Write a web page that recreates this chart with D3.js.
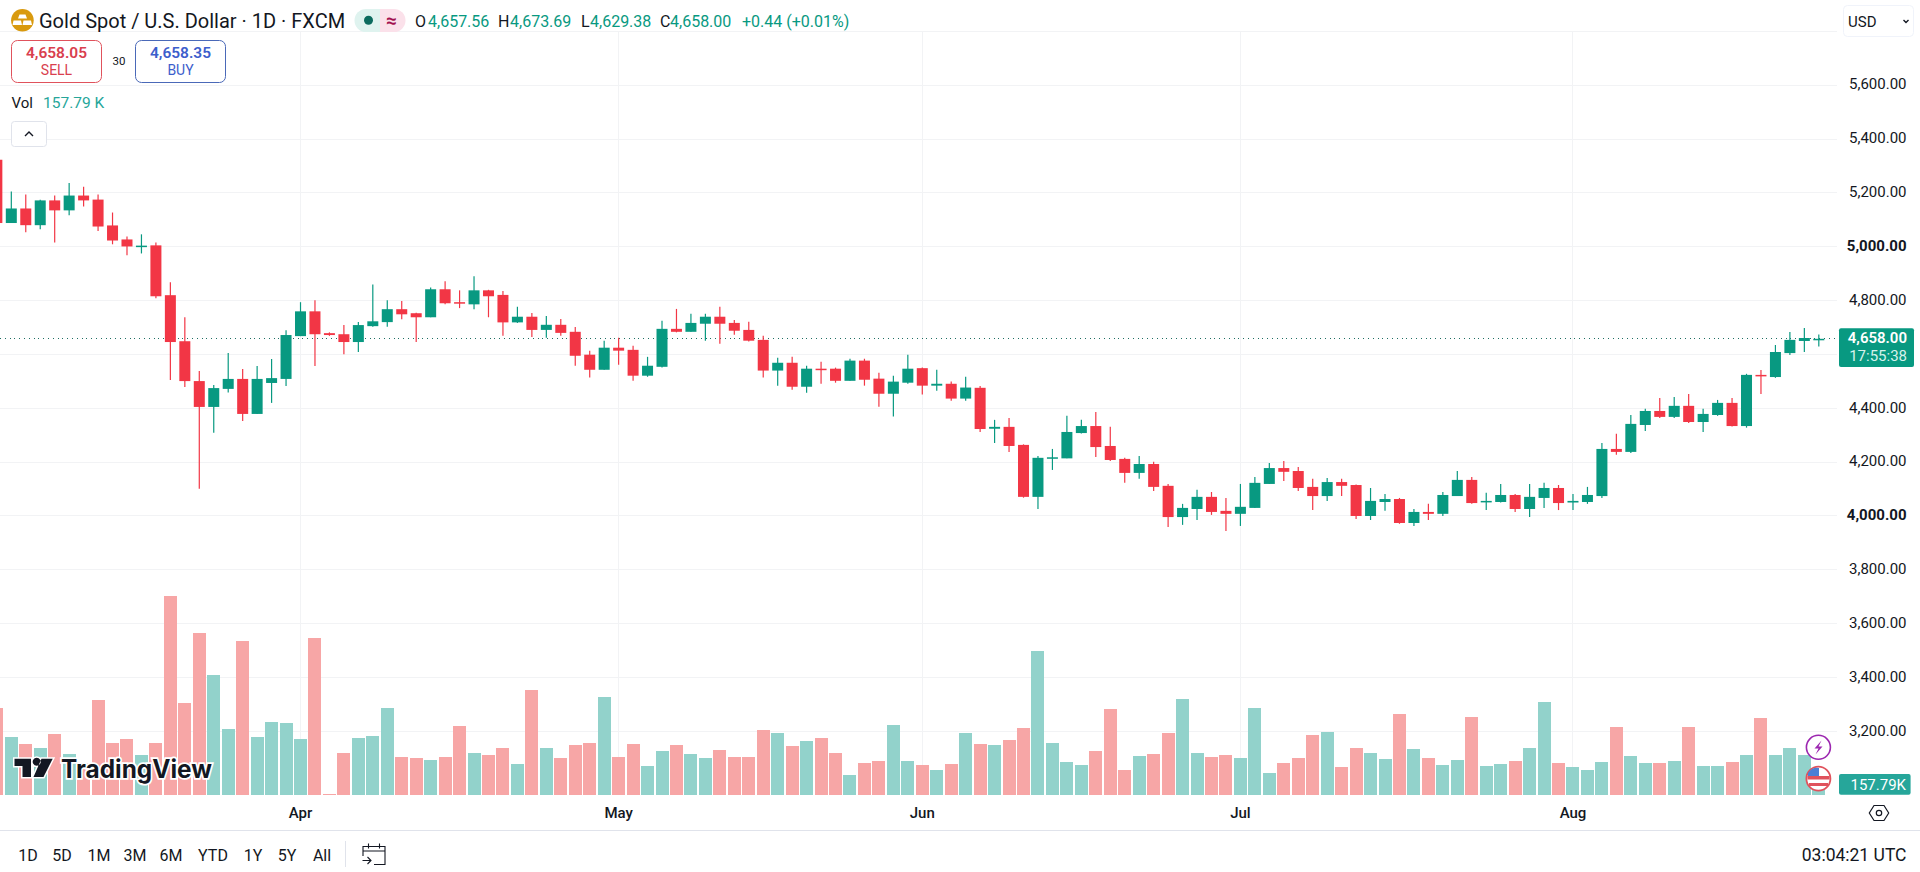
<!DOCTYPE html>
<html>
<head>
<meta charset="utf-8">
<title>Gold Spot / U.S. Dollar</title>
<script src="https://cdn.jsdelivr.net/npm/d3@7"></script>
<style>
html, body { margin: 0; padding: 0; background: #fff; overflow: hidden; }
svg { display: block; }
text { font-family: Roboto, "Noto Sans", sans-serif; }
</style>
</head>
<body>
<svg id="chart" width="1920" height="872"></svg>
<script>
// daily candles, left to right
var opens = [5323,5088,5142,5080,5172,5135,5190,5175,5079,5027,5000,5005,4820,4649,4501,4405,4472,4509,4379,4494,4509,4668,4760,4679,4675,4646,4705,4720,4768,4753,4738,4842,4794,4786,4838,4821,4719,4740,4691,4710,4684,4599,4543,4625,4617,4521,4554,4695,4684,4714,4740,4717,4691,4654,4540,4569,4480,4547,4547,4502,4577,4510,4454,4495,4549,4484,4491,4436,4476,4324,4331,4264,4071,4214,4214,4308,4334,4260,4212,4160,4193,4112,3996,4026,4071,4019,4008,4030,4119,4178,4167,4108,4074,4126,4115,4000,4052,4063,3974,4015,4008,4074,4134,4051,4052,4078,4026,4067,4104,4050,4052,4074,4249,4238,4338,4390,4368,4409,4349,4375,4420,4334,4524,4516,4605,4650,4657.56];
var highs = [5325,5205,5194,5174,5190,5237,5223,5194,5127,5038,5046,5016,4868,4738,4538,4486,4605,4546,4557,4583,4690,4794,4801,4682,4709,4720,4860,4801,4798,4755,4849,4872,4838,4890,4840,4836,4777,4754,4743,4732,4702,4614,4651,4662,4632,4591,4725,4769,4751,4751,4777,4728,4721,4669,4588,4591,4558,4573,4551,4584,4584,4532,4521,4599,4551,4543,4499,4517,4483,4357,4364,4266,4223,4249,4372,4357,4386,4331,4216,4223,4201,4119,4045,4097,4089,4067,4119,4145,4197,4204,4182,4138,4141,4138,4117,4104,4082,4067,4026,4045,4089,4167,4145,4086,4119,4082,4119,4123,4115,4082,4108,4271,4305,4375,4398,4438,4442,4453,4398,4431,4438,4528,4542,4635,4683,4698,4673.69];
var lows = [5080,5088,5054,5065,5016,5117,5149,5058,5009,4968,4975,4809,4505,4479,4101,4309,4459,4353,4379,4420,4483,4668,4557,4669,4601,4609,4703,4703,4731,4646,4738,4786,4772,4768,4738,4669,4717,4665,4662,4669,4558,4514,4543,4562,4502,4517,4551,4682,4684,4651,4640,4673,4648,4514,4484,4469,4458,4491,4495,4502,4484,4406,4369,4491,4451,4465,4428,4428,4312,4271,4238,4068,4026,4171,4214,4306,4219,4204,4123,4138,4093,3959,3967,3985,4004,3944,3963,4030,4119,4130,4093,4022,4056,4074,3989,3985,4019,3971,3963,3985,4000,4074,4045,4022,4050,4015,3996,4030,4022,4022,4045,4067,4227,4234,4316,4364,4364,4345,4312,4372,4332,4328,4453,4513,4598,4609,4629.38];
var closes = [5088,5142,5080,5172,5135,5190,5172,5075,5023,5001,5004,4816,4646,4501,4405,4475,4509,4379,4509,4512,4672,4760,4675,4672,4646,4709,4723,4768,4749,4738,4842,4790,4792,4838,4816,4719,4740,4691,4710,4680,4595,4543,4625,4614,4521,4558,4695,4684,4717,4740,4714,4688,4651,4540,4569,4480,4547,4545,4502,4577,4506,4454,4499,4547,4484,4491,4436,4477,4323,4331,4260,4071,4216,4218,4312,4334,4256,4208,4160,4193,4108,3996,4030,4071,4015,4008,4034,4123,4178,4164,4104,4074,4126,4112,4000,4056,4063,3974,4015,4008,4078,4134,4048,4056,4078,4026,4071,4104,4048,4056,4078,4249,4238,4342,4390,4368,4409,4349,4379,4420,4334,4524,4522,4609,4654,4661,4658.00];
// volume in thousands
var volumes = [1300,865,760,700,910,610,475,1420,775,835,595,775,2980,1375,2425,1795,985,2305,865,1090,1075,835,2350,10,625,850,880,1300,565,550,520,565,1030,625,595,700,460,1570,700,550,745,775,1465,565,760,430,655,745,610,550,670,565,565,970,925,730,805,850,625,295,475,505,1045,505,445,370,460,925,760,745,820,1000,2155,775,490,445,655,1285,370,580,610,925,1435,625,565,595,550,1300,325,475,550,895,940,415,700,625,535,1210,685,550,445,520,1165,430,460,505,700,1390,475,415,370,490,1015,580,475,475,505,1015,430,430,490,595,1150,595,700,595,157.79];

var priceTicks = [5800,5600,5400,5200,5000,4800,4600,4400,4200,4000,3800,3600,3400,3200];
var boldTicks = [5000,4000];
var hiddenTicks = [5800];
var monthLabels = ["Apr","May","Jun","Jul","Aug"];
var monthBars = [21,43,64,86,109];
var rangeButtons = ["1D","5D","1M","3M","6M","YTD","1Y","5Y","All"];
var rangeCenters = [28,62,99,135,171,213,253,287,322];
var lastPrice = 4658;

var UP = "#089981", DOWN = "#F23645";
var UP_VOL = "#92d2cb", DOWN_VOL = "#f7a6a6";
var GRID = "#f2f3f5", TEXT = "#131722";
var PANE_R = 1837, VOL_BASE = 794.7;

var svg = d3.select("#chart");

var x = d3.scaleLinear().domain([0, 126]).range([-3.15, 1818.81]);
var y = d3.scaleLinear().domain([3200, 5800]).range([731.4, 31.3]);
var yVol = d3.scaleLinear().domain([0, 3000]).range([VOL_BASE, 594.7]);

function label(parent, px, py, str, size, color, anchor, weight) {
	return parent.append("text")
		.attr("x", px)
		.attr("y", py)
		.attr("dy", "0.35em")
		.attr("font-size", size + "px")
		.attr("font-weight", weight || 400)
		.attr("text-anchor", anchor || "start")
		.attr("fill", color)
		.text(str);
}

// grid
var grid = svg.append("g").attr("shape-rendering", "crispEdges");
grid.selectAll(".h").data(priceTicks).enter().append("line")
	.attr("x1", 0).attr("x2", PANE_R)
	.attr("y1", function(d) { return y(d); })
	.attr("y2", function(d) { return y(d); })
	.attr("stroke", GRID);
grid.selectAll(".v").data(monthBars).enter().append("line")
	.attr("x1", function(d) { return x(d); })
	.attr("x2", function(d) { return x(d); })
	.attr("y1", 32).attr("y2", VOL_BASE)
	.attr("stroke", GRID);

// volume
svg.append("g").attr("shape-rendering", "crispEdges")
	.selectAll("rect").data(volumes).enter().append("rect")
	.attr("x", function(d, i) { return x(i) - 6.5; })
	.attr("width", 13)
	.attr("y", function(d) { return yVol(d); })
	.attr("height", function(d) { return VOL_BASE - yVol(d); })
	.attr("fill", function(d, i) { return closes[i] >= opens[i] ? UP_VOL : DOWN_VOL; });

// last price line
svg.append("line")
	.attr("x1", 0).attr("x2", PANE_R)
	.attr("y1", y(lastPrice)).attr("y2", y(lastPrice))
	.attr("stroke", "#1f6f63")
	.attr("shape-rendering", "crispEdges")
	.attr("stroke-dasharray", "1 3.8");

// candles
var candles = svg.append("g").selectAll("g").data(opens).enter().append("g");
candles.append("line")
	.attr("x1", function(d, i) { return x(i); })
	.attr("x2", function(d, i) { return x(i); })
	.attr("y1", function(d, i) { return y(highs[i]); })
	.attr("y2", function(d, i) { return y(lows[i]); })
	.attr("stroke-width", 1.2)
	.attr("stroke", function(d, i) { return closes[i] >= d ? UP : DOWN; });
candles.append("rect")
	.attr("x", function(d, i) { return x(i) - 5.5; })
	.attr("width", 11)
	.attr("y", function(d, i) { return y(Math.max(d, closes[i])); })
	.attr("height", function(d, i) { return Math.max(1.5, Math.abs(y(d) - y(closes[i]))); })
	.attr("fill", function(d, i) { return closes[i] >= d ? UP : DOWN; });

// watermark
var logo = svg.append("g");
logo.append("path")
	.attr("d", "M14.5 758.7H31V777H22.5V766H14.5ZM36.7 757.7a4 4 0 1 0 .01 0ZM41.5 758.7H52.7L43.5 777H33.5Z")
	.attr("fill", TEXT).attr("stroke", "#fff").attr("stroke-width", 3).attr("paint-order", "stroke");
label(logo, 61, 769, "TradingView", 25, TEXT, "start", 700)
	.attr("stroke", "#fff").attr("stroke-width", 3.5).attr("paint-order", "stroke")
	.style("font-family", "Inter, Roboto, sans-serif")
	.attr("textLength", 151).attr("lengthAdjust", "spacingAndGlyphs");

// price axis
svg.append("rect").attr("x", PANE_R + 1).attr("y", 0).attr("width", 82).attr("height", VOL_BASE).attr("fill", "#fff");
var axis = svg.append("g");
priceTicks.forEach(function(t) {
	if (hiddenTicks.indexOf(t) >= 0) return;
	label(axis, 1906.5, y(t) - 1, d3.format(",.2f")(t), 15, TEXT, "end", boldTicks.indexOf(t) >= 0 ? 700 : 400);
});

// last price badge
axis.append("rect").attr("x", 1839).attr("y", 328.3).attr("width", 75).attr("height", 38.7).attr("rx", 2).attr("fill", UP);
label(axis, 1907, 337.7, d3.format(",.2f")(lastPrice), 15, "#ffffff", "end", 600);
label(axis, 1907, 355.7, "17:55:38", 15, "#d6f2ec", "end");

// volume badge
axis.append("rect").attr("x", 1839).attr("y", 774).attr("width", 71.6).attr("height", 20.7).attr("rx", 2).attr("fill", "#26a69a");
label(axis, 1906, 784.5, "157.79K", 15, "#ffffff", "end");

// time axis
var timeAxis = svg.append("g");
monthLabels.forEach(function(m, i) {
	label(timeAxis, x(monthBars[i]), 813, m, 15, TEXT, "middle", 500);
});
svg.append("line").attr("x1", 0).attr("x2", 1920).attr("y1", 830.5).attr("y2", 830.5).attr("stroke", "#e0e3eb");

// event icons
var bolt = svg.append("g");
bolt.append("circle").attr("cx", 1818.4).attr("cy", 747.3).attr("r", 12).attr("fill", "#fff").attr("stroke", "#9c27b0").attr("stroke-width", 1.6);
bolt.append("path").attr("d", "M1821.5 740.5L1814.5 748.5H1818.5L1815.5 754.5L1822.5 746.5H1818.5Z").attr("fill", "#9c27b0");
var flag = svg.append("g");
flag.append("circle").attr("cx", 1818.4).attr("cy", 778.7).attr("r", 12).attr("fill", "#fff").attr("stroke", "#e0525c").attr("stroke-width", 1.8);
flag.append("path").attr("d", "M1807.5 776H1829.5V779.5H1807.5ZM1809 783H1828V786H1809Z").attr("fill", "#e0525c");
flag.append("path").attr("d", "M1808 776V773A11 11 0 0 1 1819 768V776Z").attr("fill", "#4a7fd6");

// settings hexagon
svg.append("path").attr("d", "M1874 805.5H1884L1888.7 813L1884 820.5H1874L1869.3 813Z")
	.attr("fill", "none").attr("stroke", TEXT).attr("stroke-width", 1.2);
svg.append("circle").attr("cx", 1879).attr("cy", 813).attr("r", 2.7)
	.attr("fill", "none").attr("stroke", TEXT).attr("stroke-width", 1.2);

// bottom toolbar
var bar = svg.append("g");
rangeButtons.forEach(function(b, i) {
	label(bar, rangeCenters[i], 855, b, 16, TEXT, "middle");
});
bar.append("line").attr("x1", 345.5).attr("x2", 345.5).attr("y1", 841).attr("y2", 867).attr("stroke", "#e0e3eb");
bar.append("path")
	.attr("d", "M363 856V846.5H385V864.5H374M363 851H385M368.5 843.5V848.5M379.5 843.5V848.5M362.5 860.5H371M367.5 857L371 860.5L367.5 864")
	.attr("fill", "none").attr("stroke", TEXT).attr("stroke-width", 1.1);
label(bar, 1906.5, 855, "03:04:21 UTC", 17.5, TEXT, "end");

// header
var head = svg.append("g");
head.append("circle").attr("cx", 22.4).attr("cy", 20.3).attr("r", 11.3).attr("fill", "#d99a0e");
head.append("path").attr("d", "M19.5 14.5H25.5L27 18.5H18ZM13.5 20.5H21L22 25H12.5ZM23.5 20.5H31L32 25H22.5Z").attr("fill", "#fff");
label(head, 39, 21, "Gold Spot / U.S. Dollar · 1D · FXCM", 20, TEXT);

head.append("path").attr("d", "M366 9H380V32H366A11.5 11.5 0 0 1 366 9Z").attr("fill", "#dff3ef");
head.append("path").attr("d", "M380 9H394A11.5 11.5 0 0 1 394 32H380Z").attr("fill", "#fbe1ea");
head.append("circle").attr("cx", 368.5).attr("cy", 20.3).attr("r", 4.5).attr("fill", "#0b6b5e");
label(head, 391.5, 20, "≈", 19, "#a3114f", "middle", 700);

var ohlcKeys = ["O","H","L","C"];
var ohlcKeyX = [415,498,581,660];
var ohlcValX = [428,510,590,670];
var ohlcVals = [opens[126],highs[126],lows[126],closes[126]];
ohlcKeys.forEach(function(k, i) {
	label(head, ohlcKeyX[i], 21, k, 16, TEXT);
	label(head, ohlcValX[i], 21, d3.format(",.2f")(ohlcVals[i]), 16, UP);
});
label(head, 742, 21, "+0.44 (+0.01%)", 16, UP);

// sell / buy
head.append("rect").attr("x", 11.5).attr("y", 40.5).attr("width", 90).attr("height", 42).attr("rx", 6).attr("fill", "#fff").attr("stroke", "#e0525c");
label(head, 56.5, 52.7, "4,658.05", 15.5, "#d9404e", "middle", 600);
label(head, 56.5, 70, "SELL", 14, "#d9404e", "middle");
label(head, 119, 61, "30", 11.5, TEXT, "middle");
head.append("rect").attr("x", 135.5).attr("y", 40.5).attr("width", 90).attr("height", 42).attr("rx", 6).attr("fill", "#fff").attr("stroke", "#4a69b8");
label(head, 180.5, 52.7, "4,658.35", 15.5, "#3d5ecc", "middle", 600);
label(head, 180.5, 70, "BUY", 14, "#3d5ecc", "middle");

label(head, 11.5, 102.7, "Vol", 15, TEXT);
label(head, 43, 102.7, "157.79 K", 15.5, "#26a69a");

head.append("rect").attr("x", 11.5).attr("y", 121.5).attr("width", 35).attr("height", 25).attr("rx", 3).attr("fill", "#fff").attr("stroke", "#e0e3eb");
head.append("path").attr("d", "M25 136L29 132L33 136").attr("fill", "none").attr("stroke", TEXT).attr("stroke-width", 1.4);

// currency button
head.append("rect").attr("x", 1843.5).attr("y", 5.5).attr("width", 70).attr("height", 31).attr("rx", 4).attr("fill", "#fff").attr("stroke", "#f0f3fa");
label(head, 1848, 21.5, "USD", 15, TEXT);
head.append("path").attr("d", "M1903.5 20L1906 22.5L1908.5 20").attr("fill", "none").attr("stroke", TEXT).attr("stroke-width", 1.4);
</script>
</body>
</html>
